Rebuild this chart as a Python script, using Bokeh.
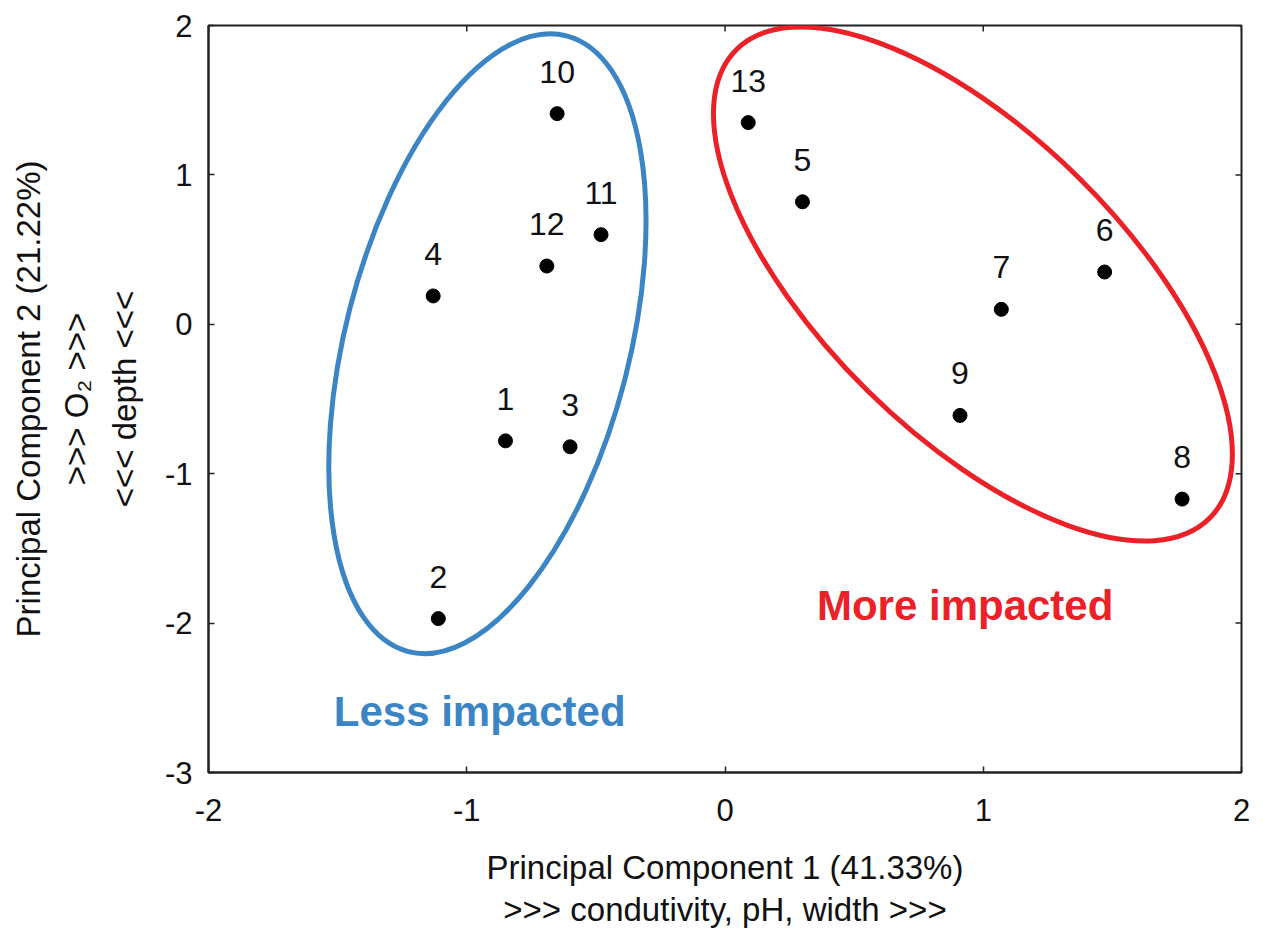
from bokeh.plotting import figure
from bokeh.models import Range1d, FixedTicker, ColumnDataSource
from bokeh.core.properties import value
from bokeh.embed import file_html
from bokeh.resources import INLINE

# ---- data ----
site_ids = ["1", "2", "3", "4", "5", "6", "7", "8", "9", "10", "11", "12", "13"]
pc1 = [-0.85, -1.11, -0.60, -1.13, 0.30, 1.47, 1.07, 1.77, 0.91, -0.65, -0.48, -0.69, 0.09]
pc2 = [-0.78, -1.97, -0.82, 0.19, 0.82, 0.35, 0.10, -1.17, -0.61, 1.41, 0.60, 0.39, 1.35]

x_ticks = [-2, -1, 0, 1, 2]
x_tick_labels = ["-2", "-1", "0", "1", "2"]
y_ticks = [-3, -2, -1, 0, 1, 2]
y_tick_labels = ["-3", "-2", "-1", "0", "1", "2"]

group_names = ["Less impacted", "More impacted"]
group_colors = ["#3b85c5", "#ec2027"]
group_center_x = [-0.92, 0.96]
group_center_y = [-0.13, 0.27]
group_label_x = [-0.95, 0.93]
group_label_y = [-2.59, -1.88]

x_title = "Principal Component 1 (41.33%)\n>>> condutivity, pH, width >>>"
y_title = "Principal Component 2 (21.22%)\n>>> O\u2082 >>>\n<<< depth <<<"

FONT = "Liberation Sans"
X0, X1 = x_ticks[0], x_ticks[-1]
Y0, Y1 = y_ticks[0], y_ticks[-1]

p = figure(width=1253, height=931,
           x_range=Range1d(X0, X1), y_range=Range1d(Y0, Y1),
           output_backend="svg", toolbar_location=None,
           min_border_left=208, min_border_right=12,
           min_border_top=25, min_border_bottom=150)

p.xgrid.visible = False
p.ygrid.visible = False
p.outline_line_color = "#222222"
p.outline_line_width = 2
p.background_fill_color = "white"
p.border_fill_color = "white"

def style_axis(ax, ticks, labels):
    ax.ticker = FixedTicker(ticks=ticks)
    ax.major_label_overrides = {t: l for t, l in zip(ticks, labels)}
    ax.major_tick_in = 6
    ax.major_tick_out = 0
    ax.minor_tick_in = 0
    ax.minor_tick_out = 0
    ax.axis_line_color = "#222222"
    ax.axis_line_width = 2
    ax.major_tick_line_color = "#222222"
    ax.major_tick_line_width = 1.5
    ax.major_label_text_font = FONT
    ax.major_label_text_font_size = "31px"
    ax.major_label_text_color = "#111111"
    ax.axis_label_text_font = FONT
    ax.axis_label_text_font_size = "33px"
    ax.axis_label_text_font_style = "normal"
    ax.axis_label_text_color = "#111111"

style_axis(p.xaxis[0], x_ticks, x_tick_labels)
style_axis(p.yaxis[0], y_ticks, y_tick_labels)
p.xaxis[0].major_label_standoff = 26
p.yaxis[0].major_label_standoff = 16

p.xaxis[0].axis_label = x_title
p.xaxis[0].axis_label_text_line_height = 1.15
p.xaxis[0].axis_label_standoff = 25

p.yaxis[0].axis_label = y_title
p.yaxis[0].axis_label_text_line_height = 1.3
p.yaxis[0].axis_label_standoff = 19

# inward ticks on the top and right sides of the frame
p.ray(x=x_ticks, y=[Y1] * len(x_ticks), length=6, angle=-90,
      length_units="screen", angle_units="deg", line_color="#222222", line_width=1.5)
p.ray(x=[X1] * len(y_ticks), y=y_ticks, length=6, angle=180,
      length_units="screen", angle_units="deg", line_color="#222222", line_width=1.5)

# group ellipses (screen-sized, tilted)
ell = ColumnDataSource(dict(x=group_center_x, y=group_center_y,
                            w=[284, 666], h=[636, 300], a=[-14.4, -44.6],
                            c=group_colors))
p.ellipse(x="x", y="y", width="w", height="h", angle="a",
          width_units="screen", height_units="screen", angle_units="deg",
          fill_alpha=0, line_color="c", line_width=5, source=ell)

# points
src = ColumnDataSource(dict(x=pc1, y=pc2, t=site_ids))
p.scatter(x="x", y="y", size=14, color="black", source=src)
p.text(x="x", y="y", text="t", source=src, text_align="center",
       text_baseline="alphabetic", y_offset=-42,
       text_font=value(FONT), text_font_size="32px", text_color="#111111")

# group labels
gl = ColumnDataSource(dict(x=group_label_x, y=group_label_y, t=group_names, c=group_colors))
p.text(x="x", y="y", text="t", source=gl, text_align="center",
       text_baseline="middle", text_color="c",
       text_font=value(FONT), text_font_size="42px", text_font_style="bold")

open("out.html", "w").write(file_html(p, INLINE))
